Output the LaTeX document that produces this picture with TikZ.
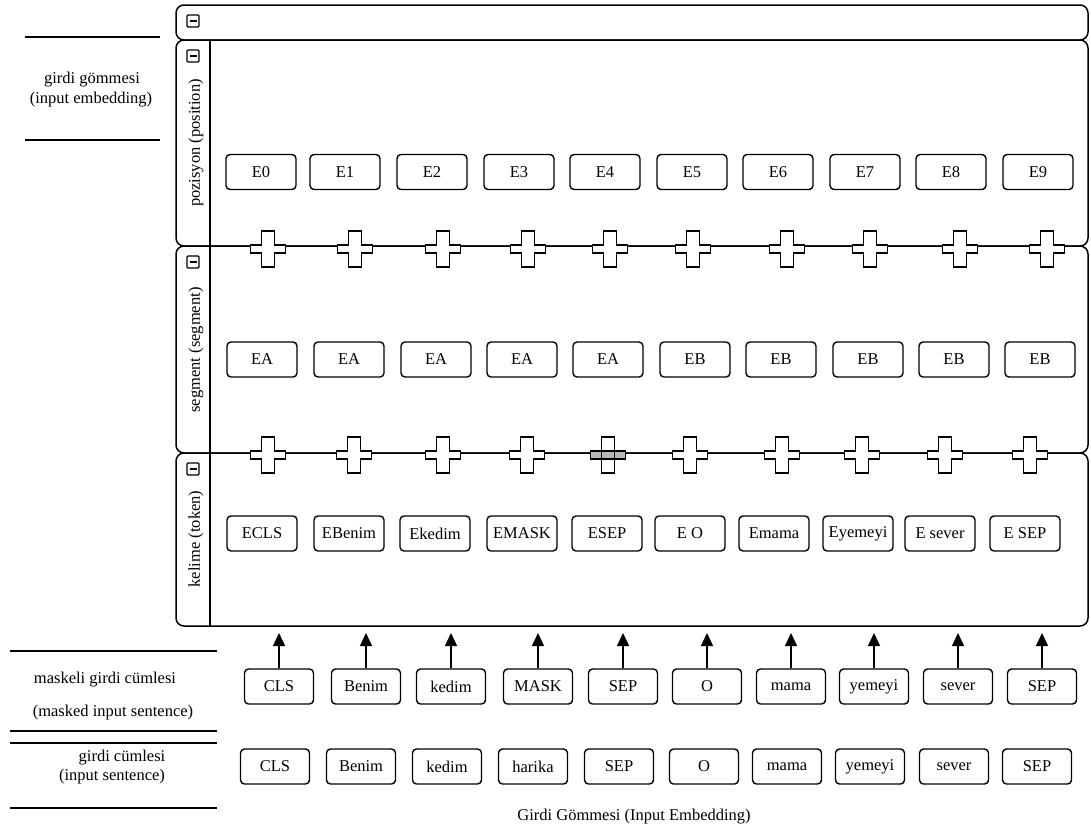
\documentclass[tikz,border=0pt]{standalone}
\usepackage{fontspec}
\setmainfont{Liberation Serif}
\usetikzlibrary{arrows.meta}
\begin{document}
\begin{tikzpicture}[x=1pt,y=-1pt,
  ebox/.style={draw, line width=1.4pt, rounded corners=4pt, minimum width=70pt, minimum height=35pt, inner sep=0pt, font=\fontsize{16.5}{19}\selectfont},
  sbox/.style={ebox, minimum width=69pt},
  lane/.style={draw, line width=1.5pt, rounded corners=8pt},
  icon/.style={draw, line width=1.1pt, rounded corners=1pt, minimum size=12pt, inner sep=0pt},
  lbl/.style={font=\fontsize{16.5}{19}\selectfont, inner sep=0pt},
  rule/.style={line width=1.5pt},
  up/.style={-{Triangle[width=12pt,length=13pt]}, line width=1.5pt},
  plusw/.pic={\draw[line width=1.2pt, fill=white] (-6.5,-18) -- (6.5,-18) -- (6.5,-4) -- (17.5,-4) -- (17.5,4) -- (6.5,4) -- (6.5,18) -- (-6.5,18) -- (-6.5,4) -- (-17.5,4) -- (-17.5,-4) -- (-6.5,-4) -- cycle;},
  plusg/.pic={\draw[line width=1.2pt, fill=white] (-6.5,-18) -- (6.5,-18) -- (6.5,-4) -- (17.5,-4) -- (17.5,4) -- (6.5,4) -- (6.5,18) -- (-6.5,18) -- (-6.5,4) -- (-17.5,4) -- (-17.5,-4) -- (-6.5,-4) -- cycle;
    \fill[gray!55] (-17.5,-4) rectangle (17.5,4);
    \draw[line width=1.2pt] (-17.5,-4) rectangle (17.5,4) (-6.5,-4) -- (-6.5,4) (6.5,-4) -- (6.5,4);}
]
\useasboundingbox (0,0) rectangle (1091,839);
\fill[white] (0,0) rectangle (1091,839);

% swimlane frame
\draw[lane] (176,5) rectangle (1088,40);
\draw[lane] (176,40) rectangle (1088,246);
\draw[lane] (176,246) rectangle (1088,453);
\draw[lane] (176,453) rectangle (1088,626);
\draw[rule] (210,40) -- (210,626);

% collapse icons
\foreach \n/\yy in {0/21,1/56,2/262,3/469} {
  \node[icon] (ic\n) at (193,\yy) {};
  \draw[line width=1.1pt] (ic\n.center) ++(-3.5,0) -- ++(7,0);
}

% lane titles
\node[lbl, rotate=90] (lpos) at (196,143) {pozisyon (position)};
\node[lbl, rotate=90] (lseg) at (196,350) {segment (segment)};
\node[lbl, rotate=90] (ltok) at (196,539) {kelime (token)};

% pluses
\foreach \xx in {268,355,443,528,610,693,787,870,960,1047} {
  \pic at (\xx,249) {plusw};
}
\foreach \xx/\k in {268/w,354/w,443/w,527/w,608/g,690/w,782/w,862/w,945/w,1030/w} {
  \pic at (\xx,455) {plus\k};
}

% position row
\foreach \i/\xx/\t in {0/261/E0,1/345/E1,2/432/E2,3/519/E3,4/605/E4,5/692/E5,6/778/E6,7/865/E7,8/951/E8,9/1038/E9} {
  \node[ebox] (e\i) at (\xx,172) {\t};
}
% segment row
\foreach \i/\xx/\t in {0/262/EA,1/349/EA,2/436/EA,3/522/EA,4/608/EA,5/695/EB,6/781/EB,7/868/EB,8/954/EB,9/1040/EB} {
  \node[ebox] (a\i) at (\xx,359.5) {\t};
}
% token row
\foreach \i/\xx/\t in {0/262/ECLS,1/349/EBenim,2/435/Ekedim,3/522/EMASK,4/607/ESEP,5/690/E O,6/774/Emama,7/858/Eyemeyi,8/940/E sever,9/1025/E SEP} {
  \node[ebox] (t\i) at (\xx,533.5) {\t};
}
% masked sentence row with arrows
\foreach \i/\xx/\t in {0/279/CLS,1/366/Benim,2/451/kedim,3/538/MASK,4/623/SEP,5/707/O,6/791/mama,7/874/yemeyi,8/958/sever,9/1042/SEP} {
  \node[sbox] (m\i) at (\xx,686.5) {\t};
  \coordinate (tip\i) at (\xx,633);
  \draw[up] (m\i.north) -- (tip\i);
}
% input sentence row
\foreach \i/\xx/\t in {0/275/CLS,1/361/Benim,2/447/kedim,3/533/harika,4/619/SEP,5/704/O,6/787/mama,7/870/yemeyi,8/954/sever,9/1037/SEP} {
  \node[sbox] (s\i) at (\xx,766.5) {\t};
}

% left labels and rules
\draw[rule] (25,37) -- (160,37);
\draw[rule] (25,140) -- (160,140);
\node[lbl] (g1) at (92,80) {girdi gömmesi};
\node[lbl] (g2) at (91,100) {(input embedding)};

\draw[rule] (10,651) -- (217,651);
\node[lbl] (k1) at (105,680) {maskeli girdi cümlesi};
\node[lbl] (k2) at (113,713) {(masked input sentence)};
\draw[rule] (10,731) -- (217,731);
\draw[rule] (10,743) -- (217,743);
\node[lbl] (c1) at (122,758) {girdi cümlesi};
\node[lbl] (c2) at (112,777) {(input sentence)};
\draw[rule] (10,808) -- (217,808);

% caption
\node[lbl] (cap) at (634,817) {Girdi Gömmesi (Input Embedding)};
\end{tikzpicture}
\end{document}
